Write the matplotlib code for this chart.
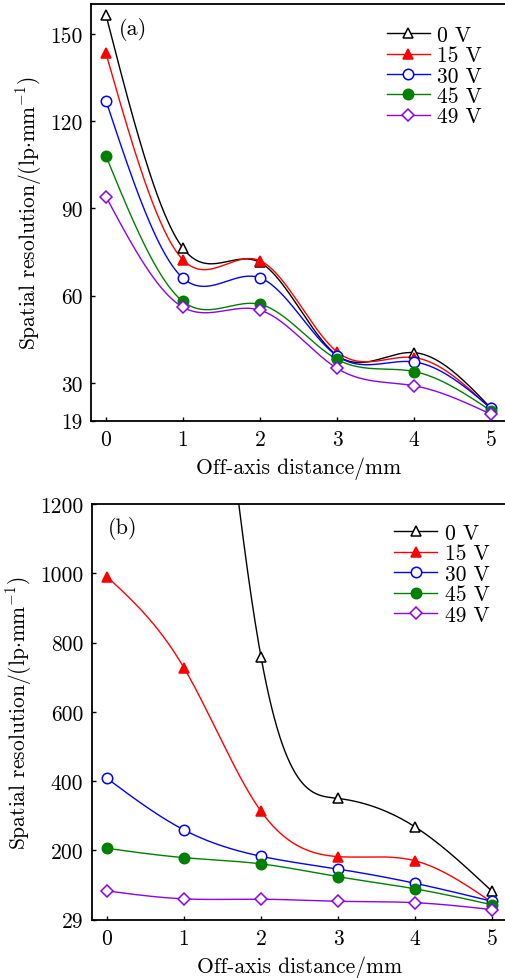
import numpy as np
import matplotlib
matplotlib.use("Agg")
import matplotlib.pyplot as plt

plt.rcParams['font.family'] = 'serif'
plt.rcParams['font.serif'] = ['cmr10', 'DejaVu Serif']
plt.rcParams['mathtext.fontset'] = 'cm'
plt.rcParams['axes.formatter.use_mathtext'] = True
plt.rcParams['axes.unicode_minus'] = False

# ---- data ----
distance = [0, 1, 2, 3, 4, 5]
voltages = ['0 V', '15 V', '30 V', '45 V', '49 V']

res_a_0V = [156.5, 76.3, 71.4, 39.5, 40.4, 21.3]
res_a_15V = [143.3, 72.3, 72.0, 40.7, 38.7, 21.0]
res_a_30V = [127.0, 66.0, 66.1, 39.3, 37.2, 21.3]
res_a_45V = [108.0, 58.0, 57.0, 38.1, 33.9, 20.4]
res_a_49V = [94.0, 56.0, 55.0, 35.0, 29.0, 19.2]

res_b_0V = [4000, 2600, 759, 350, 268, 82]
res_b_15V = [990, 727, 313, 182, 170, 50]
res_b_30V = [408, 259, 183, 146, 105, 53]
res_b_45V = [206, 179, 161, 124, 89, 43]
res_b_49V = [83, 60, 59, 53, 49, 29]

yticks_a = [17, 30, 60, 90, 120, 150]
yticklabels_a = ['19', '30', '60', '90', '120', '150']
yticks_b = [0, 200, 400, 600, 800, 1000, 1200]
yticklabels_b = ['29', '200', '400', '600', '800', '1000', '1200']
xticks = [0, 1, 2, 3, 4, 5]

colors = ['black', '#FF0000', '#0000FF', '#008000', '#8B00FF']
markers = ['^', '^', 'o', 'o', 'D']
filled = [False, True, False, True, False]
msizes = [7.5, 7.5, 7.5, 7.5, 6.5]


def natural_spline(x, y, n=300):
    x = np.asarray(x, float)
    y = np.asarray(y, float)
    k = len(x)
    h = np.diff(x)
    A = np.zeros((k, k))
    b = np.zeros(k)
    A[0, 0] = 1
    A[-1, -1] = 1
    for i in range(1, k - 1):
        A[i, i - 1] = h[i - 1]
        A[i, i] = 2 * (h[i - 1] + h[i])
        A[i, i + 1] = h[i]
        b[i] = 6 * ((y[i + 1] - y[i]) / h[i] - (y[i] - y[i - 1]) / h[i - 1])
    M = np.linalg.solve(A, b)
    xs = np.linspace(x[0], x[-1], n)
    ys = np.empty_like(xs)
    for j, xv in enumerate(xs):
        i = min(np.searchsorted(x, xv, side='right') - 1, k - 2)
        t1 = x[i + 1] - xv
        t2 = xv - x[i]
        ys[j] = (M[i] * t1 ** 3 / (6 * h[i]) + M[i + 1] * t2 ** 3 / (6 * h[i])
                 + (y[i] / h[i] - M[i] * h[i] / 6) * t1
                 + (y[i + 1] / h[i] - M[i + 1] * h[i] / 6) * t2)
    return xs, ys


FS = 15.5

fig = plt.figure(figsize=(5.06, 9.79), dpi=100)
ax_a = fig.add_axes([0.1790, 0.5693, 0.8217, 0.4251])
ax_b = fig.add_axes([0.1810, 0.0596, 0.8217, 0.4246])

panels = [
    (ax_a, [res_a_0V, res_a_15V, res_a_30V, res_a_45V, res_a_49V], (17, 160.1),
     yticks_a, yticklabels_a, '(a)', (0.067, 0.942), (0.712, 0.950)),
    (ax_b, [res_b_0V, res_b_15V, res_b_30V, res_b_45V, res_b_49V], (0, 1200),
     yticks_b, yticklabels_b, '(b)', (0.040, 0.944), (0.728, 0.953)),
]

for ax, series, ylim, yt, ytl, tag, tagpos, lanchor in panels:
    for vals, lab, c, m, f, ms in zip(series, voltages, colors, markers, filled, msizes):
        xs, ys = natural_spline(distance, vals)
        ax.plot(xs, ys, color=c, lw=1.0, zorder=2)
        ax.plot(distance, vals, linestyle='none', marker=m, ms=ms,
                markerfacecolor=c if f else 'white', markeredgecolor=c,
                markeredgewidth=1.1, zorder=3)
        ax.plot([], [], color=c, lw=1.0, marker=m, ms=ms,
                markerfacecolor=c if f else 'white', markeredgecolor=c,
                markeredgewidth=1.1, label=lab)
    ax.set_xlim(-0.2, 5.2)
    ax.set_ylim(*ylim)
    ax.set_xticks(xticks)
    ax.set_xticklabels([str(v) for v in xticks])
    ax.set_yticks(yt)
    ax.set_yticklabels(ytl)
    ax.tick_params(direction='in', length=3, width=1.0, labelsize=FS,
                   top=False, right=False, pad=6)
    for s in ['left', 'bottom', 'top']:
        ax.spines[s].set_linewidth(1.3)
    ax.spines['right'].set_visible(False)
    ax.set_xlabel('Off-axis distance/mm', fontsize=FS, labelpad=6)
    ax.set_ylabel(r'Spatial resolution/(lp$\cdot$mm$^{-1}$)', fontsize=FS, labelpad=4)
    ax.text(tagpos[0], tagpos[1], tag, transform=ax.transAxes, fontsize=16,
            va='center', ha='left')
    ax.legend(loc='upper left', bbox_to_anchor=lanchor, frameon=False,
              fontsize=FS, handlelength=2.0, handletextpad=0.35, labelspacing=0.04,
              borderaxespad=0.0, borderpad=0.0)

fig.savefig('out.png', dpi=100)
